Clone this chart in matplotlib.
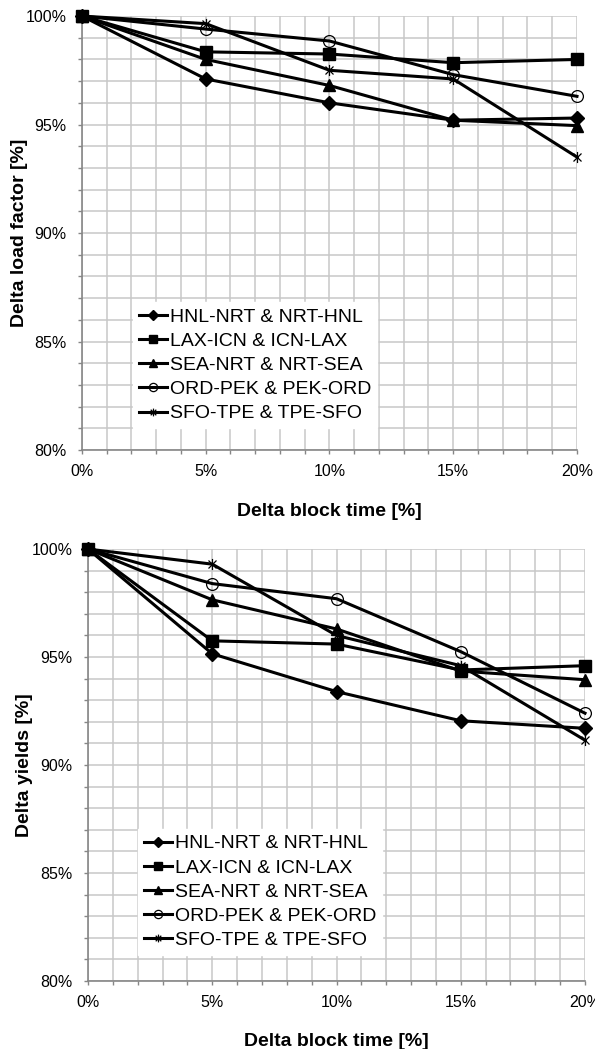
import matplotlib
matplotlib.use('Agg')
import matplotlib.pyplot as plt
import numpy as np
from matplotlib.path import Path
from matplotlib.ticker import MultipleLocator, FuncFormatter

plt.rcParams['font.family'] = ['Liberation Sans', 'DejaVu Sans']

# delta block time [%]
block_time = [0, 5, 10, 15, 20]
routes = ['HNL-NRT & NRT-HNL', 'LAX-ICN & ICN-LAX', 'SEA-NRT & NRT-SEA',
          'ORD-PEK & PEK-ORD', 'SFO-TPE & TPE-SFO']

# delta load factor [%]
lf_hnl = [100, 97.1, 96.0, 95.2, 95.3]
lf_lax = [100, 98.35, 98.25, 97.85, 98.0]
lf_sea = [100, 98.0, 96.8, 95.2, 94.95]
lf_ord = [100, 99.4, 98.85, 97.3, 96.3]
lf_sfo = [100, 99.65, 97.5, 97.1, 93.5]

# delta yields [%]
yd_hnl = [100, 95.15, 93.4, 92.05, 91.7]
yd_lax = [100, 95.75, 95.6, 94.4, 94.6]
yd_sea = [100, 97.65, 96.3, 94.35, 93.95]
yd_ord = [100, 98.4, 97.7, 95.25, 92.4]
yd_sfo = [100, 99.3, 96.0, 94.6, 91.15]

# asterisk marker like the spreadsheet one
star = Path([(0, -1), (0, 1), (-0.72, -0.72), (0.72, 0.72), (-0.72, 0.72), (0.72, -0.72)],
            [Path.MOVETO, Path.LINETO, Path.MOVETO, Path.LINETO, Path.MOVETO, Path.LINETO])

styles = [dict(marker='D', ms=7.5, mfc='black'),
          dict(marker='s', ms=8.5, mfc='black'),
          dict(marker='^', ms=8.5, mfc='black'),
          dict(marker='o', ms=8.5, mfc='none', mew=0.9),
          dict(marker=star, ms=8, mfc='none', mew=0.9)]

fig = plt.figure(figsize=(5.95, 10.49), dpi=100)
ax1 = fig.add_axes([0.1378, 0.5710, 0.8319, 0.4137])
ax2 = fig.add_axes([0.1479, 0.0648, 0.8353, 0.4118])

def draw(ax, series, ylabel, leg_anchor, ylab_x):
    for vals, name, st in zip(series, routes, styles):
        ax.plot(block_time, vals, color='black', lw=2.2, mec='black',
                label=name, clip_on=False, zorder=3, **st)
    ax.set_xlim(0, 20)
    ax.set_ylim(80, 100)
    ax.xaxis.set_major_locator(MultipleLocator(5))
    ax.xaxis.set_minor_locator(MultipleLocator(1))
    ax.yaxis.set_major_locator(MultipleLocator(5))
    ax.yaxis.set_minor_locator(MultipleLocator(1))
    pct = FuncFormatter(lambda v, p: '%d%%' % round(v))
    ax.xaxis.set_major_formatter(pct)
    ax.yaxis.set_major_formatter(pct)
    ax.grid(True, which='both', color='#c8c8c8', lw=1.1, zorder=0)
    ax.set_axisbelow(True)
    for s in ['top', 'right']:
        ax.spines[s].set_visible(False)
    for s in ['left', 'bottom']:
        ax.spines[s].set_color('#868686')
        ax.spines[s].set_linewidth(1.2)
    ax.tick_params(which='both', direction='out', length=3, width=1, color='#868686',
                   labelsize=11.5)
    ax.tick_params(axis='y', pad=8)
    ax.tick_params(axis='x', pad=7)
    ax.set_xlabel('Delta block time [%]', fontsize=14, fontweight='bold')
    ax.set_ylabel(ylabel, fontsize=14, fontweight='bold')
    ax.xaxis.set_label_coords(0.5, -0.121)
    ax.yaxis.set_label_coords(ylab_x, 0.5)
    leg = ax.legend(loc='lower left', bbox_to_anchor=leg_anchor, fontsize=14,
                    frameon=True, fancybox=False, framealpha=1, edgecolor='white',
                    facecolor='white', handlelength=1.45, handletextpad=0.15,
                    labelspacing=0.34, borderpad=0.3, borderaxespad=0,
                    markerscale=0.7)
    leg.set_zorder(5)

draw(ax1, [lf_hnl, lf_lax, lf_sea, lf_ord, lf_sfo], 'Delta load factor [%]', (0.103, 0.05), -0.109)
draw(ax2, [yd_hnl, yd_lax, yd_sea, yd_ord, yd_sfo], 'Delta yields [%]', (0.101, 0.06), -0.111)

fig.savefig('out.png', dpi=100)
